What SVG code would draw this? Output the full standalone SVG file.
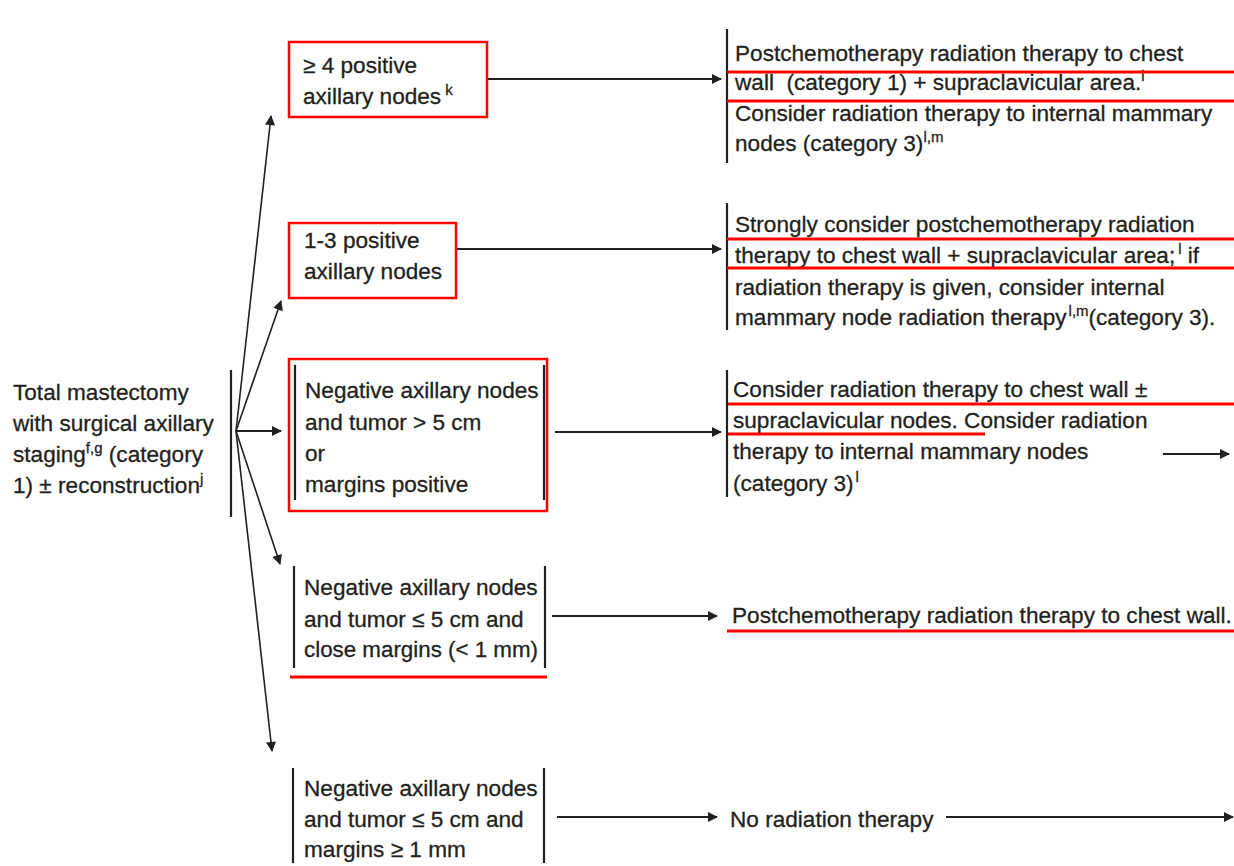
<svg xmlns="http://www.w3.org/2000/svg" width="1234" height="866" viewBox="0 0 1234 866">
<style>
text{font-family:"Liberation Sans",Arial,sans-serif;font-size:22.6px;fill:#231f20;stroke:#231f20;stroke-width:0.3}
.sup{font-size:15px}
.bar{stroke:#231f20;stroke-width:2.2;fill:none}
.red{stroke:#ff0000;stroke-width:3;fill:none}
.redbox{stroke:#ff0000;stroke-width:2.5;fill:#fff}
.con{stroke:#231f20;stroke-width:2.2;fill:none;marker-end:url(#ah)}
.con1{stroke:#231f20;stroke-width:1.6;fill:none;marker-end:url(#ah)}
</style>
<defs>
<marker id="ah" viewBox="0 0 10 10" refX="9" refY="5" markerUnits="userSpaceOnUse" markerWidth="11" markerHeight="10" orient="auto">
<path d="M0,0 L10,5 L0,10 Z" fill="#231f20"/>
</marker>
</defs>
<rect width="1234" height="866" fill="#fff"/>

<g id="connectors">
<path class="con1" d="M236,431 L271,116"/>
<path class="con1" d="M236,431 L281,301"/>
<path class="con" d="M236,431 L281,431"/>
<path class="con1" d="M236,431 L280,564"/>
<path class="con1" d="M236,431 L272,751"/>
<path class="con" d="M486,79 L721,79"/>
<path class="con" d="M452,249 L721,249"/>
<path class="con" d="M555,432 L721,432"/>
<path class="con" d="M552,616 L717,616"/>
<path class="con" d="M557,817 L717,817"/>
<path class="con" d="M1163,454 L1229,454"/>
<path class="con" d="M946,817 L1233,817"/>
</g>

<g id="start">
<line class="bar" x1="231" y1="370" x2="231" y2="517"/>
<text x="13" y="400">Total mastectomy</text>
<text x="13" y="431">with surgical axillary</text>
<text x="13" y="462">staging<tspan class="sup" dy="-9">f,g</tspan><tspan dy="9"> (category</tspan></text>
<text x="13" y="493">1) ± reconstruction<tspan class="sup" dy="-9">j</tspan></text>
</g>

<g id="n1">
<rect class="redbox" x="289" y="42" width="198" height="75"/>
<text x="303" y="73">≥ 4 positive</text>
<text x="303" y="104">axillary nodes<tspan class="sup" dx="4" dy="-9">k</tspan></text>
</g>

<g id="n2">
<rect class="redbox" x="289" y="223" width="167" height="75"/>
<text x="304" y="248">1-3 positive</text>
<text x="304" y="279">axillary nodes</text>
</g>

<g id="n3">
<rect class="redbox" x="289" y="359" width="258" height="152"/>
<line class="bar" x1="295" y1="365" x2="295" y2="500"/>
<line class="bar" x1="544" y1="365" x2="544" y2="500"/>
<text x="305" y="398">Negative axillary nodes</text>
<text x="305" y="430">and tumor &gt; 5 cm</text>
<text x="305" y="461">or</text>
<text x="305" y="492">margins positive</text>
</g>

<g id="n4">
<line class="bar" x1="294" y1="566" x2="294" y2="668"/>
<line class="bar" x1="545" y1="566" x2="545" y2="668"/>
<line class="red" x1="290" y1="677" x2="547" y2="677"/>
<text x="304" y="595">Negative axillary nodes</text>
<text x="304" y="627">and tumor ≤ 5 cm and</text>
<text x="304" y="657" textLength="234" lengthAdjust="spacingAndGlyphs">close margins (&lt; 1 mm)</text>
</g>

<g id="n5">
<line class="bar" x1="293" y1="768" x2="293" y2="863"/>
<line class="bar" x1="544" y1="768" x2="544" y2="863"/>
<text x="304" y="796">Negative axillary nodes</text>
<text x="304" y="827">and tumor ≤ 5 cm and</text>
<text x="304" y="857">margins ≥ 1 mm</text>
</g>

<g id="r1">
<line class="bar" x1="727" y1="29" x2="727" y2="163"/>
<text x="735" y="61">Postchemotherapy radiation therapy to chest</text>
<text x="735" y="90">wall&#160; (category 1) + supraclavicular area.<tspan class="sup" dy="-9">l</tspan></text>
<text x="735" y="121">Consider radiation therapy to internal mammary</text>
<text x="735" y="151">nodes (category 3)<tspan class="sup" dy="-9">l,m</tspan></text>
<line class="red" x1="727" y1="72" x2="1234" y2="72"/>
<line class="red" x1="727" y1="101" x2="1234" y2="101"/>
</g>

<g id="r2">
<line class="bar" x1="727" y1="203" x2="727" y2="330"/>
<text x="735" y="232">Strongly consider postchemotherapy radiation</text>
<text x="735" y="263">therapy to chest wall + supraclavicular area;<tspan class="sup" dx="3" dy="-9">l</tspan><tspan dy="9"> if</tspan></text>
<text x="735" y="295">radiation therapy is given, consider internal</text>
<text x="735" y="325">mammary node radiation therapy<tspan class="sup" dx="2" dy="-9">l,m</tspan><tspan dy="9">(category 3).</tspan></text>
<line class="red" x1="727" y1="239" x2="1234" y2="239"/>
<line class="red" x1="727" y1="268" x2="1234" y2="268"/>
</g>

<g id="r3">
<line class="bar" x1="727" y1="370" x2="727" y2="497"/>
<text x="733" y="397">Consider radiation therapy to chest wall ±</text>
<text x="733" y="428">supraclavicular nodes. Consider radiation</text>
<text x="733" y="459">therapy to internal mammary nodes</text>
<text x="733" y="491">(category 3)<tspan class="sup" dx="2" dy="-9">l</tspan></text>
<line class="red" x1="728" y1="404" x2="1234" y2="404"/>
<line class="red" x1="728" y1="434" x2="985" y2="434"/>
</g>

<g id="r4">
<text x="732" y="623">Postchemotherapy radiation therapy to chest wall.</text>
<line class="red" x1="727" y1="631" x2="1234" y2="631"/>
</g>

<g id="r5">
<text x="730" y="827">No radiation therapy</text>
</g>
</svg>
